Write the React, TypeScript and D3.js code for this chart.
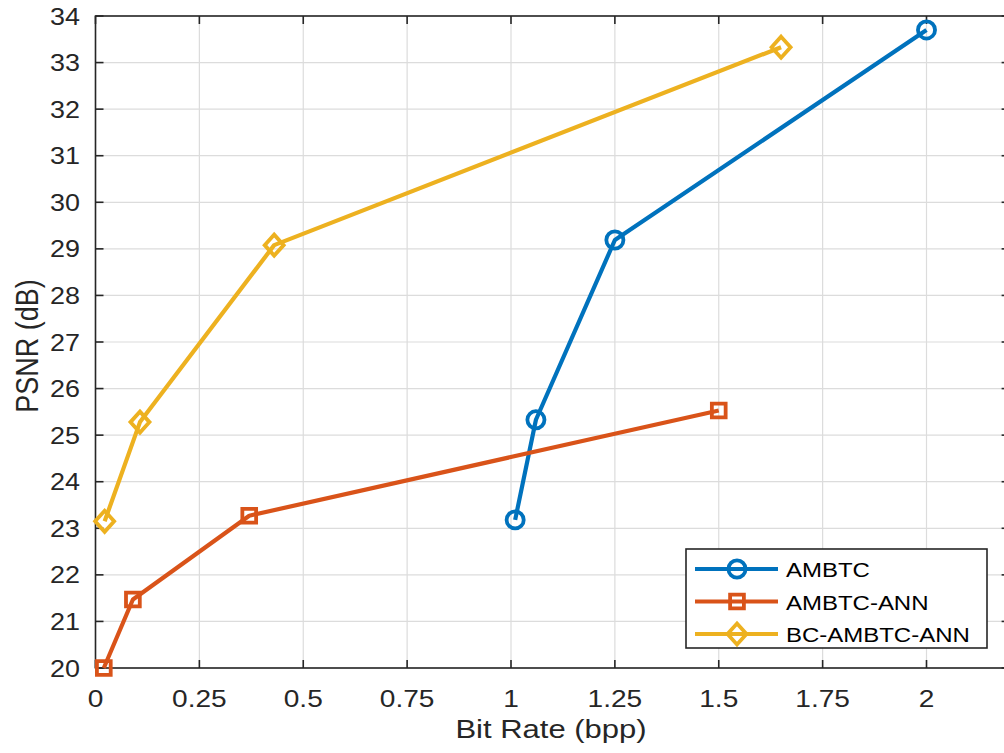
import React, { useEffect, useRef } from 'react';
import * as d3 from 'd3';

const xTicks = [0, 0.25, 0.5, 0.75, 1, 1.25, 1.5, 1.75, 2];
const xTickLabels = ['0', '0.25', '0.5', '0.75', '1', '1.25', '1.5', '1.75', '2'];
const yTicks = [20, 21, 22, 23, 24, 25, 26, 27, 28, 29, 30, 31, 32, 33, 34];

const seriesNames = ['AMBTC', 'AMBTC-ANN', 'BC-AMBTC-ANN'];
const seriesColors = ['#0072BD', '#D95319', '#EDB120'];
const seriesMarkers = ['circle', 'square', 'diamond'];

const ambtcRate = [1.01, 1.06, 1.25, 2.0];
const ambtcPsnr = [23.18, 25.33, 29.19, 33.7];
const annRate = [0.02, 0.09, 0.37, 1.5];
const annPsnr = [20.0, 21.47, 23.27, 25.53];
const bcRate = [0.022, 0.107, 0.43, 1.65];
const bcPsnr = [23.15, 25.28, 29.08, 33.33];

const FONT = "'Liberation Sans', Arial, sans-serif";
// 原图横向略有拉伸
const SX = 1.17;

const App = () => {
  const ref = useRef<SVGSVGElement | null>(null);

  useEffect(() => {
    if (ref.current) draw();
  }, []);

  const draw = () => {
    const svg = d3.select(ref.current);
    svg.selectAll('*').remove();

    const width = 1004;
    const height = 753;
    const left = 95.5, top = 16, bottom = 668;

    const x = d3.scaleLinear().domain([0, 2.2]).range([left, left + 2.2 * 415.5]);
    const y = d3.scaleLinear().domain([20, 34]).range([bottom, top]);
    const right = x(2.2);

    svg.append('rect').attr('width', width).attr('height', height).attr('fill', '#fff');

    const label = (tx: number, ty: number, txt: string, size: number, anchor: string, fill = '#262626', rot = 0) => {
      svg.append('text')
        .attr('transform', `translate(${tx}, ${ty}) scale(${SX}, 1)${rot ? ` rotate(${rot})` : ''}`)
        .attr('text-anchor', anchor)
        .style('font-family', FONT).style('font-size', `${size}px`).style('fill', fill)
        .text(txt);
    };

    // 网格线
    const grid = svg.append('g');
    xTicks.forEach(t => {
      grid.append('line')
        .attr('x1', x(t)).attr('x2', x(t)).attr('y1', top).attr('y2', bottom)
        .attr('stroke', '#dcdcdc').attr('stroke-width', 1.2);
    });
    yTicks.forEach(t => {
      grid.append('line')
        .attr('x1', left).attr('x2', right).attr('y1', y(t)).attr('y2', y(t))
        .attr('stroke', '#dcdcdc').attr('stroke-width', 1.2);
    });

    // 坐标框和刻度
    const axis = svg.append('g').attr('stroke', '#262626').attr('stroke-width', 1.6);
    axis.append('rect')
      .attr('x', left).attr('y', top).attr('width', right - left).attr('height', bottom - top)
      .attr('fill', 'none');
    const tl = 8;
    xTicks.forEach(t => {
      axis.append('line').attr('x1', x(t)).attr('x2', x(t)).attr('y1', bottom).attr('y2', bottom - tl);
      axis.append('line').attr('x1', x(t)).attr('x2', x(t)).attr('y1', top).attr('y2', top + tl);
    });
    yTicks.forEach(t => {
      axis.append('line').attr('x1', left).attr('x2', left + tl).attr('y1', y(t)).attr('y2', y(t));
      axis.append('line').attr('x1', right).attr('x2', right - tl).attr('y1', y(t)).attr('y2', y(t));
    });

    // 刻度标签
    xTicks.forEach((t, i) => label(x(t), 707, xTickLabels[i], 24, 'middle'));
    yTicks.forEach(t => label(80, y(t) + 8.5, String(t), 23, 'end'));

    label(551, 738, 'Bit Rate (bpp)', 26.5, 'middle');
    label(38, 346, 'PSNR (dB)', 27, 'middle', '#262626', -90);

    const markerPath = (type: string) => {
      if (type === 'circle') return d3.symbol(d3.symbolCircle, 230)();
      if (type === 'square') return d3.symbol(d3.symbolSquare, 190)();
      return 'M0,-10.5L9.5,0L0,10.5L-9.5,0Z';
    };

    const series = [
      { rate: ambtcRate, psnr: ambtcPsnr },
      { rate: annRate, psnr: annPsnr },
      { rate: bcRate, psnr: bcPsnr },
    ];

    const line = d3.line<[number, number]>().x(d => x(d[0])).y(d => y(d[1]));

    series.forEach((s, i) => {
      const pts: [number, number][] = s.rate.map((r, j) => [r, s.psnr[j]]);
      svg.append('path')
        .attr('d', line(pts))
        .attr('fill', 'none')
        .attr('stroke', seriesColors[i])
        .attr('stroke-width', 4.2)
        .attr('stroke-linejoin', 'round');
      pts.forEach(p => {
        svg.append('path')
          .attr('d', markerPath(seriesMarkers[i]))
          .attr('transform', `translate(${x(p[0])}, ${y(p[1])})`)
          .attr('fill', 'none')
          .attr('stroke', seriesColors[i])
          .attr('stroke-width', 3.8);
      });
    });

    // 图例
    const legend = svg.append('g');
    legend.append('rect')
      .attr('x', 686).attr('y', 549).attr('width', 301).attr('height', 99)
      .attr('fill', '#fff').attr('stroke', '#262626').attr('stroke-width', 1.6);
    seriesNames.forEach((name, i) => {
      const ly = 569 + i * 32.5;
      legend.append('line')
        .attr('x1', 695).attr('x2', 778).attr('y1', ly).attr('y2', ly)
        .attr('stroke', seriesColors[i]).attr('stroke-width', 4.2);
      legend.append('path')
        .attr('d', markerPath(seriesMarkers[i]))
        .attr('transform', `translate(737, ${ly})`)
        .attr('fill', 'none')
        .attr('stroke', seriesColors[i])
        .attr('stroke-width', 3.8);
      label(786, ly + 8, name, 20.5, 'start', '#000');
    });
  };

  return (
    <svg
      ref={ref}
      width={1004}
      height={753}
      style={{ position: 'absolute', left: 0, top: 0, overflow: 'hidden' }}
    />
  );
};

export default App;
